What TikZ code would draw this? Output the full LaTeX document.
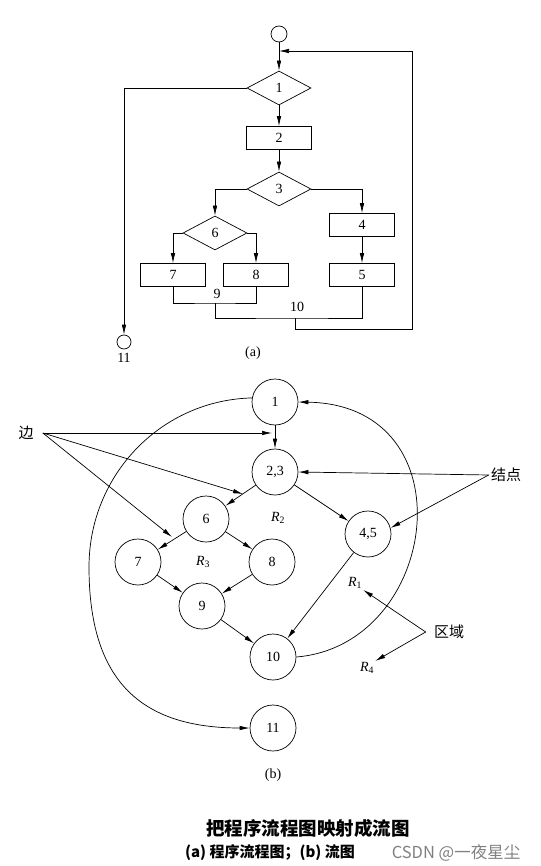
\documentclass[tikz,border=0pt]{standalone}
\usepackage{fontspec}
\setmainfont{Liberation Serif}
\newfontfamily\cjk{Noto Sans CJK SC}
\usetikzlibrary{shapes.geometric,arrows.meta}
\newcommand{\regn}[1]{\textit{R}\textsubscript{#1}}

\begin{document}
\begin{tikzpicture}[x=1pt, y=-1pt, line width=0.7pt, >={Latex[length=10pt,width=4.5pt]},
  font=\fontsize{14}{16}\selectfont,
  box/.style = {draw, rectangle, minimum width=65pt, minimum height=23pt, inner sep=0pt},
  cond/.style = {draw, diamond, minimum width=64pt, minimum height=34pt, inner sep=0pt},
  term/.style = {draw, circle, minimum size=#1, inner sep=0pt}, term/.default = 16pt,
  vert/.style = {draw, circle, minimum size=46pt, inner sep=0pt},
  reg/.style = {inner sep=1pt},
  cjkl/.style = {font=\cjk\fontsize{15}{17}\selectfont}]

\useasboundingbox (0,0) rectangle (540,866);

% (a) flow chart
\node[term] (start) at (279,34) {};
\node[cond] (d1) at (279,88) {1};
\node[box] (b2) at (279,138) {2};
\node[cond] (d3) at (279,189) {3};
\node[cond] (d6) at (215,233) {6};
\node[box] (b4) at (362,225) {4};
\node[box] (b5) at (362,275) {5};
\node[box] (b7) at (173,275) {7};
\node[box] (b8) at (256,275) {8};
\node[term=14pt] (stop) at (124,342) {};
\node[below] (l11) at (stop.south) {11};
\node (l9) at (217,294) {9};
\node (l10) at (297,307) {10};
\node (capa) at (253,353) {(a)};

% joins of the flow lines
\coordinate (j9) at (215,303);
\coordinate (j10) at (295,318);
\coordinate (back) at (412,329);
\coordinate (top) at (279,51);

\draw[->] (start) -- (d1);
\draw[->] (d1) -- (b2);
\draw[->] (b2) -- (d3);
\draw[->] (d3.west) -| (d6.north);
\draw[->] (d3.east) -| (b4.north);
\draw[->] (d6.west) -| (b7.north);
\draw[->] (d6.east) -| (b8.north);
\draw[->] (b4) -- (b5);
\draw[->] (d1.west) -| (stop.north);
\draw (b7.south) |- (j9) -| (b8.south);
\draw (j9) |- (j10) -| (b5.south);
\draw[->] (j10) |- (back) |- (top);

% (b) flow graph
\node[vert] (n1) at (275,402) {1};
\node[vert] (n23) at (275,472) {2,3};
\node[vert] (n6) at (206,519) {6};
\node[vert] (n45) at (368,534) {4,5};
\node[vert] (n7) at (138,562) {7};
\node[vert] (n8) at (272,562) {8};
\node[vert] (n9) at (202,606) {9};
\node[vert] (n10) at (273,657) {10};
\node[vert] (n11) at (273,728) {11};
\node (capb) at (273,775) {(b)};

\draw[->] (n1) -- (n23);
\draw[->] (n23) -- (n6);
\draw[->] (n23) -- (n45);
\draw[->] (n6) -- (n7);
\draw[->] (n6) -- (n8);
\draw[->] (n7) -- (n9);
\draw[->] (n8) -- (n9);
\draw[->] (n9) -- (n10);
\draw[->] (n45) -- (n10);
\draw[->] (n1.170) .. controls (162,400) and (89,474) .. (89,567)
  .. controls (89,680) and (140,728) .. (n11.west);
\draw[->] (n10.east) .. controls (440,645) and (470,405) .. (n1.east);

% regions
\node[reg] (r1) at (355,583) {\regn{1}};
\node[reg] (r2) at (278,518) {\regn{2}};
\node[reg] (r3) at (203,562) {\regn{3}};
\node[reg] (r4) at (367,668) {\regn{4}};

% pointers
\node[cjkl, inner xsep=9pt] (bian) at (26,433) {边};
\node[cjkl, inner xsep=2pt] (jd) at (506,475) {结点};
\node[cjkl, inner xsep=8pt] (qy) at (449,632) {区域};
\coordinate (e1) at (272,433);
\coordinate (e2) at (243,494);
\coordinate (e3) at (172,537);
\draw[->] (bian.east) -- (e1);
\draw[->] (bian.east) -- (e2);
\draw[->] (bian.east) -- (e3);
\draw[->] (jd.west) -- (n23.east);
\draw[->] (jd.west) -- (n45.15);
\draw[->] (qy.west) -- (r1.south east);
\draw[->] (qy.west) -- (r4.north east);

% caption
\node[font=\cjk\bfseries\fontsize{18.5}{20}\selectfont] (cap) at (308,828) {把程序流程图映射成流图};
\node[font=\cjk\bfseries\fontsize{15}{17}\selectfont] (sub) at (270,853) {(a) 程序流程图；(b) 流图};
\node[font=\cjk\fontsize{16.5}{18}\selectfont, text=gray] (wm) at (456,853) {CSDN @一夜星尘};

\end{tikzpicture}
\end{document}
